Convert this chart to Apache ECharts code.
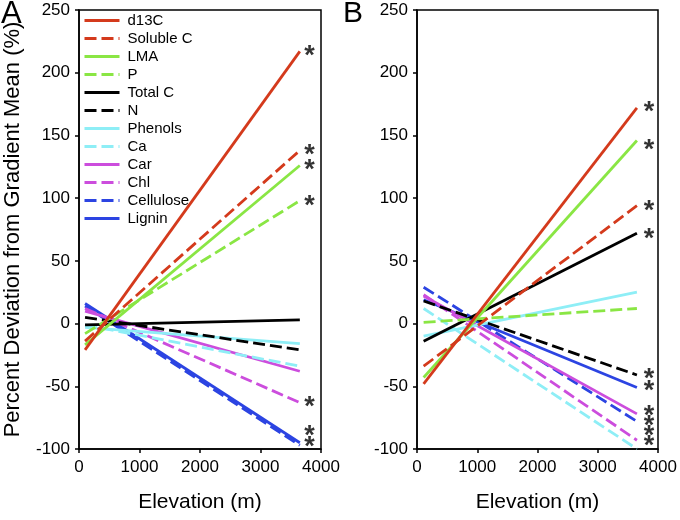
<!DOCTYPE html>
<html>
<head>
<meta charset="utf-8">
<script src="https://cdn.jsdelivr.net/npm/echarts@6/dist/echarts.min.js"></script>
<style>
  html, body { margin: 0; padding: 0; background: #fff; }
  #chart { width: 680px; height: 520px; }
</style>
</head>
<body>
<div id="chart"></div>
<script>
// traits, in legend order
const traits = ['d13C', 'Soluble C', 'LMA', 'P', 'Total C', 'N', 'Phenols', 'Ca', 'Car', 'Chl', 'Cellulose', 'Lignin'];
const colors = ['#d43a1c', '#d43a1c', '#8ae644', '#8ae644', '#000000', '#000000', '#8eeef6', '#8eeef6', '#cc4ddd', '#cc4ddd', '#2c44e2', '#2c44e2'];
const dashed = [false, true, false, true, false, true, false, true, false, true, true, false];

// elevation of the two ends of each fitted line
const elevA = [100, 3650];
const elevB = [110, 3650];

// panel A: % deviation at low / high end
const startA = [-21, -14, -17, -8, -1, 5, -3, -1, 10, 12, 14, 16];
const endA = [217, 138, 126, 98, 3, -21, -16, -34, -38, -63, -97, -95];

// panel B
const startB = [-48, -34, -43, 1, -14, 18, -10, 12, 22, 23, 29, 19];
const endB = [172, 94, 146, 12, 72, -41, 25, -100, -72, -93, -78, -51];

// significance stars (x, y)
const starXA = 3810;
const starYA = [217, 138, 126, 97, -63, -86, -95];
const starXB = 3850;
const starYB = [172, 142, 93, 71, -41, -50, -70, -78, -86, -94];

const xTicks = { min: 0, max: 4000, interval: 1000 };
const yTicks = { min: -100, max: 250, interval: 50 };

const font = 'Liberation Sans, Arial, sans-serif';

function makeLines(gi, elev, start, end) {
    return traits.map((name, i) => ({
        name: name,
        type: 'line',
        xAxisIndex: gi,
        yAxisIndex: gi,
        symbol: 'none',
        z: 2 + (traits.length - i) * 0.01,
        lineStyle: {
            color: colors[i],
            width: 2.8,
            type: dashed[i] ? [12, 5] : 'solid'
        },
        itemStyle: { color: colors[i] },
        data: [[elev[0], start[i]], [elev[1], end[i]]]
    }))
}

function makeStars(gi, x, ys) {
    return {
        type: 'scatter',
        xAxisIndex: gi,
        yAxisIndex: gi,
        symbolSize: 1,
        itemStyle: { color: 'rgba(0,0,0,0)' },
        silent: true,
        label: {
            show: true,
            position: 'inside',
            formatter: '*',
            color: '#000',
            fontSize: 27,
            fontWeight: 'bold',
            fontFamily: font,
            offset: [0, 5]
        },
        data: ys.map(y => [x, y])
    }
}

function xAxis(gi) {
    return {
        type: 'value',
        gridIndex: gi,
        min: xTicks.min, max: xTicks.max, interval: xTicks.interval,
        name: 'Elevation (m)',
        nameLocation: 'middle',
        nameGap: 43,
        nameTextStyle: { fontSize: 21, color: '#000', fontFamily: font },
        axisLine: { show: true, onZero: false, lineStyle: { color: '#000', width: 1.5 } },
        axisTick: { show: true, length: 4, lineStyle: { color: '#000', width: 1.5 } },
        axisLabel: { color: '#000', fontSize: 17, margin: 10, fontFamily: font, formatter: v => String(v) },
        splitLine: { show: false }
    }
}

function yAxis(gi, withName) {
    return {
        type: 'value',
        gridIndex: gi,
        min: yTicks.min, max: yTicks.max, interval: yTicks.interval,
        name: withName ? 'Percent Deviation from Gradient Mean (%)' : '',
        nameLocation: 'middle',
        nameGap: 55,
        nameTextStyle: { fontSize: 22, color: '#000', fontFamily: font },
        axisLine: { show: true, onZero: false, lineStyle: { color: '#000', width: 1.5 } },
        axisTick: { show: true, length: 4, lineStyle: { color: '#000', width: 1.5 } },
        axisLabel: { color: '#000', fontSize: 17, margin: 9, fontFamily: font },
        splitLine: { show: false }
    }
}

const chart = echarts.init(document.getElementById('chart'), null, { renderer: 'canvas' });
chart.setOption({
    animation: false,
    backgroundColor: '#fff',
    textStyle: { fontFamily: font },
    grid: [
        { left: 79, top: 10, width: 242, height: 439, show: true, borderColor: '#000', borderWidth: 1.5, backgroundColor: 'transparent' },
        { left: 417, top: 10, width: 241, height: 439, show: true, borderColor: '#000', borderWidth: 1.5, backgroundColor: 'transparent' }
    ],
    xAxis: [xAxis(0), xAxis(1)],
    yAxis: [yAxis(0, true), yAxis(1, false)],
    legend: {
        data: traits,
        orient: 'vertical',
        left: 83,
        top: 13,
        padding: 0,
        itemWidth: 35,
        itemHeight: 14,
        itemGap: 3,
        itemStyle: { opacity: 0 },
        lineStyle: { width: 3 },
        textStyle: { fontSize: 15, color: '#000', fontFamily: font, padding: [0, 0, 0, 3] },
        selectedMode: false
    },
    graphic: [
        { type: 'text', left: 1, top: -1, style: { text: 'A', fontSize: 31, fill: '#000', fontFamily: font } },
        { type: 'text', left: 343, top: -1, style: { text: 'B', fontSize: 30, fill: '#000', fontFamily: font } }
    ],
    series: [
        ...makeLines(0, elevA, startA, endA),
        ...makeLines(1, elevB, startB, endB),
        makeStars(0, starXA, starYA),
        makeStars(1, starXB, starYB)
    ]
});
</script>
</body>
</html>
